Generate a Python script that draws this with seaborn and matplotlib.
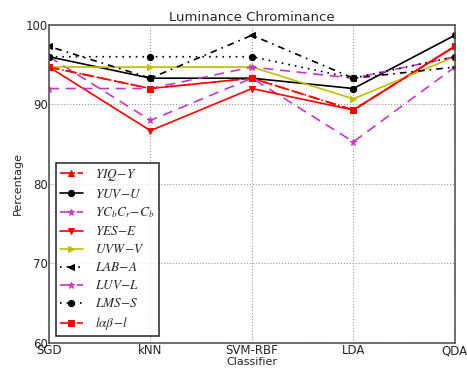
import matplotlib
matplotlib.use("Agg")
import matplotlib.pyplot as plt
import seaborn as sns

# Data
classifiers = ["SGD", "kNN", "SVM-RBF", "LDA", "QDA"]
yiq_y = [94.7, 92.0, 93.3, 89.3, 97.3]
yuv_u = [96.0, 93.3, 93.3, 92.0, 98.7]
ycbcr_cb = [96.0, 88.0, 93.3, 85.3, 94.7]
yes_e = [94.7, 86.7, 92.0, 89.3, 97.3]
uvw_v = [94.7, 94.7, 94.7, 90.7, 96.0]
lab_a = [97.3, 93.3, 98.7, 93.3, 94.7]
luv_l = [92.0, 92.0, 94.7, 93.3, 96.0]
lms_s = [96.0, 96.0, 96.0, 93.3, 96.0]
lab_l = [94.7, 92.0, 93.3, 89.3, 97.3]

sns.set_style("white")
plt.rcParams['mathtext.fontset'] = 'stix'

fig = plt.figure(figsize=(4.67, 3.72), dpi=100)
ax = fig.add_axes([0.105, 0.078, 0.869, 0.855])

purple = "#cc33cc"
yellow = "#bfbf00"
series = [
    (yiq_y, r"$YIQ\!-\!Y$", "red", "-.", "^"),
    (yuv_u, r"$YUV\!-\!U$", "black", "-", "o"),
    (ycbcr_cb, r"$YC_bC_r\!-\!C_b$", purple, (0, (6, 4)), "*"),
    (yes_e, r"$YES\!-\!E$", "red", "-", "v"),
    (uvw_v, r"$UVW\!-\!V$", yellow, "-", ">"),
    (lab_a, r"$LAB\!-\!A$", "black", (0, (1, 3, 4, 3)), "<"),
    (luv_l, r"$LUV\!-\!L$", purple, (0, (6, 4)), "*"),
    (lms_s, r"$LMS\!-\!S$", "black", (0, (1, 3, 1, 3)), "o"),
    (lab_l, r"$l\alpha\beta\!-\!l$", "red", (0, (6, 4)), "s"),
]

x = list(range(len(classifiers)))
for vals, label, color, ls, mk in series:
    sns.lineplot(x=x, y=vals, ax=ax, color=color, linestyle=ls, marker=mk,
                 markersize=4.5, markeredgecolor=color, linewidth=1.2,
                 label=label, sort=False)

ax.set_xlim(0, 4)
ax.set_ylim(60, 100)
ax.set_xticks(x)
ax.set_xticklabels(classifiers, fontsize=8.5)
ax.set_yticks([60, 70, 80, 90, 100])
ax.tick_params(axis='both', labelsize=8.5, pad=1, length=0)
ax.grid(True, linestyle=':', color='#999999', linewidth=0.8)
for sp in ax.spines.values():
    sp.set_color('#555555')
    sp.set_linewidth(1.2)

ax.set_title("Luminance Chrominance", fontsize=9.5, pad=3)
ax.set_xlabel("Classifier", fontsize=8, labelpad=0)
ax.set_ylabel("Percentage", fontsize=8, labelpad=2)

leg = ax.legend(loc="lower left", fontsize=9.5, frameon=True, fancybox=False,
                handlelength=1.8, labelspacing=0.38, borderpad=0.3,
                handletextpad=0.9, bbox_to_anchor=(0.0, 0.0))
leg.get_frame().set_edgecolor("black")
leg.get_frame().set_linewidth(1.2)

fig.savefig("out.png", dpi=100)
